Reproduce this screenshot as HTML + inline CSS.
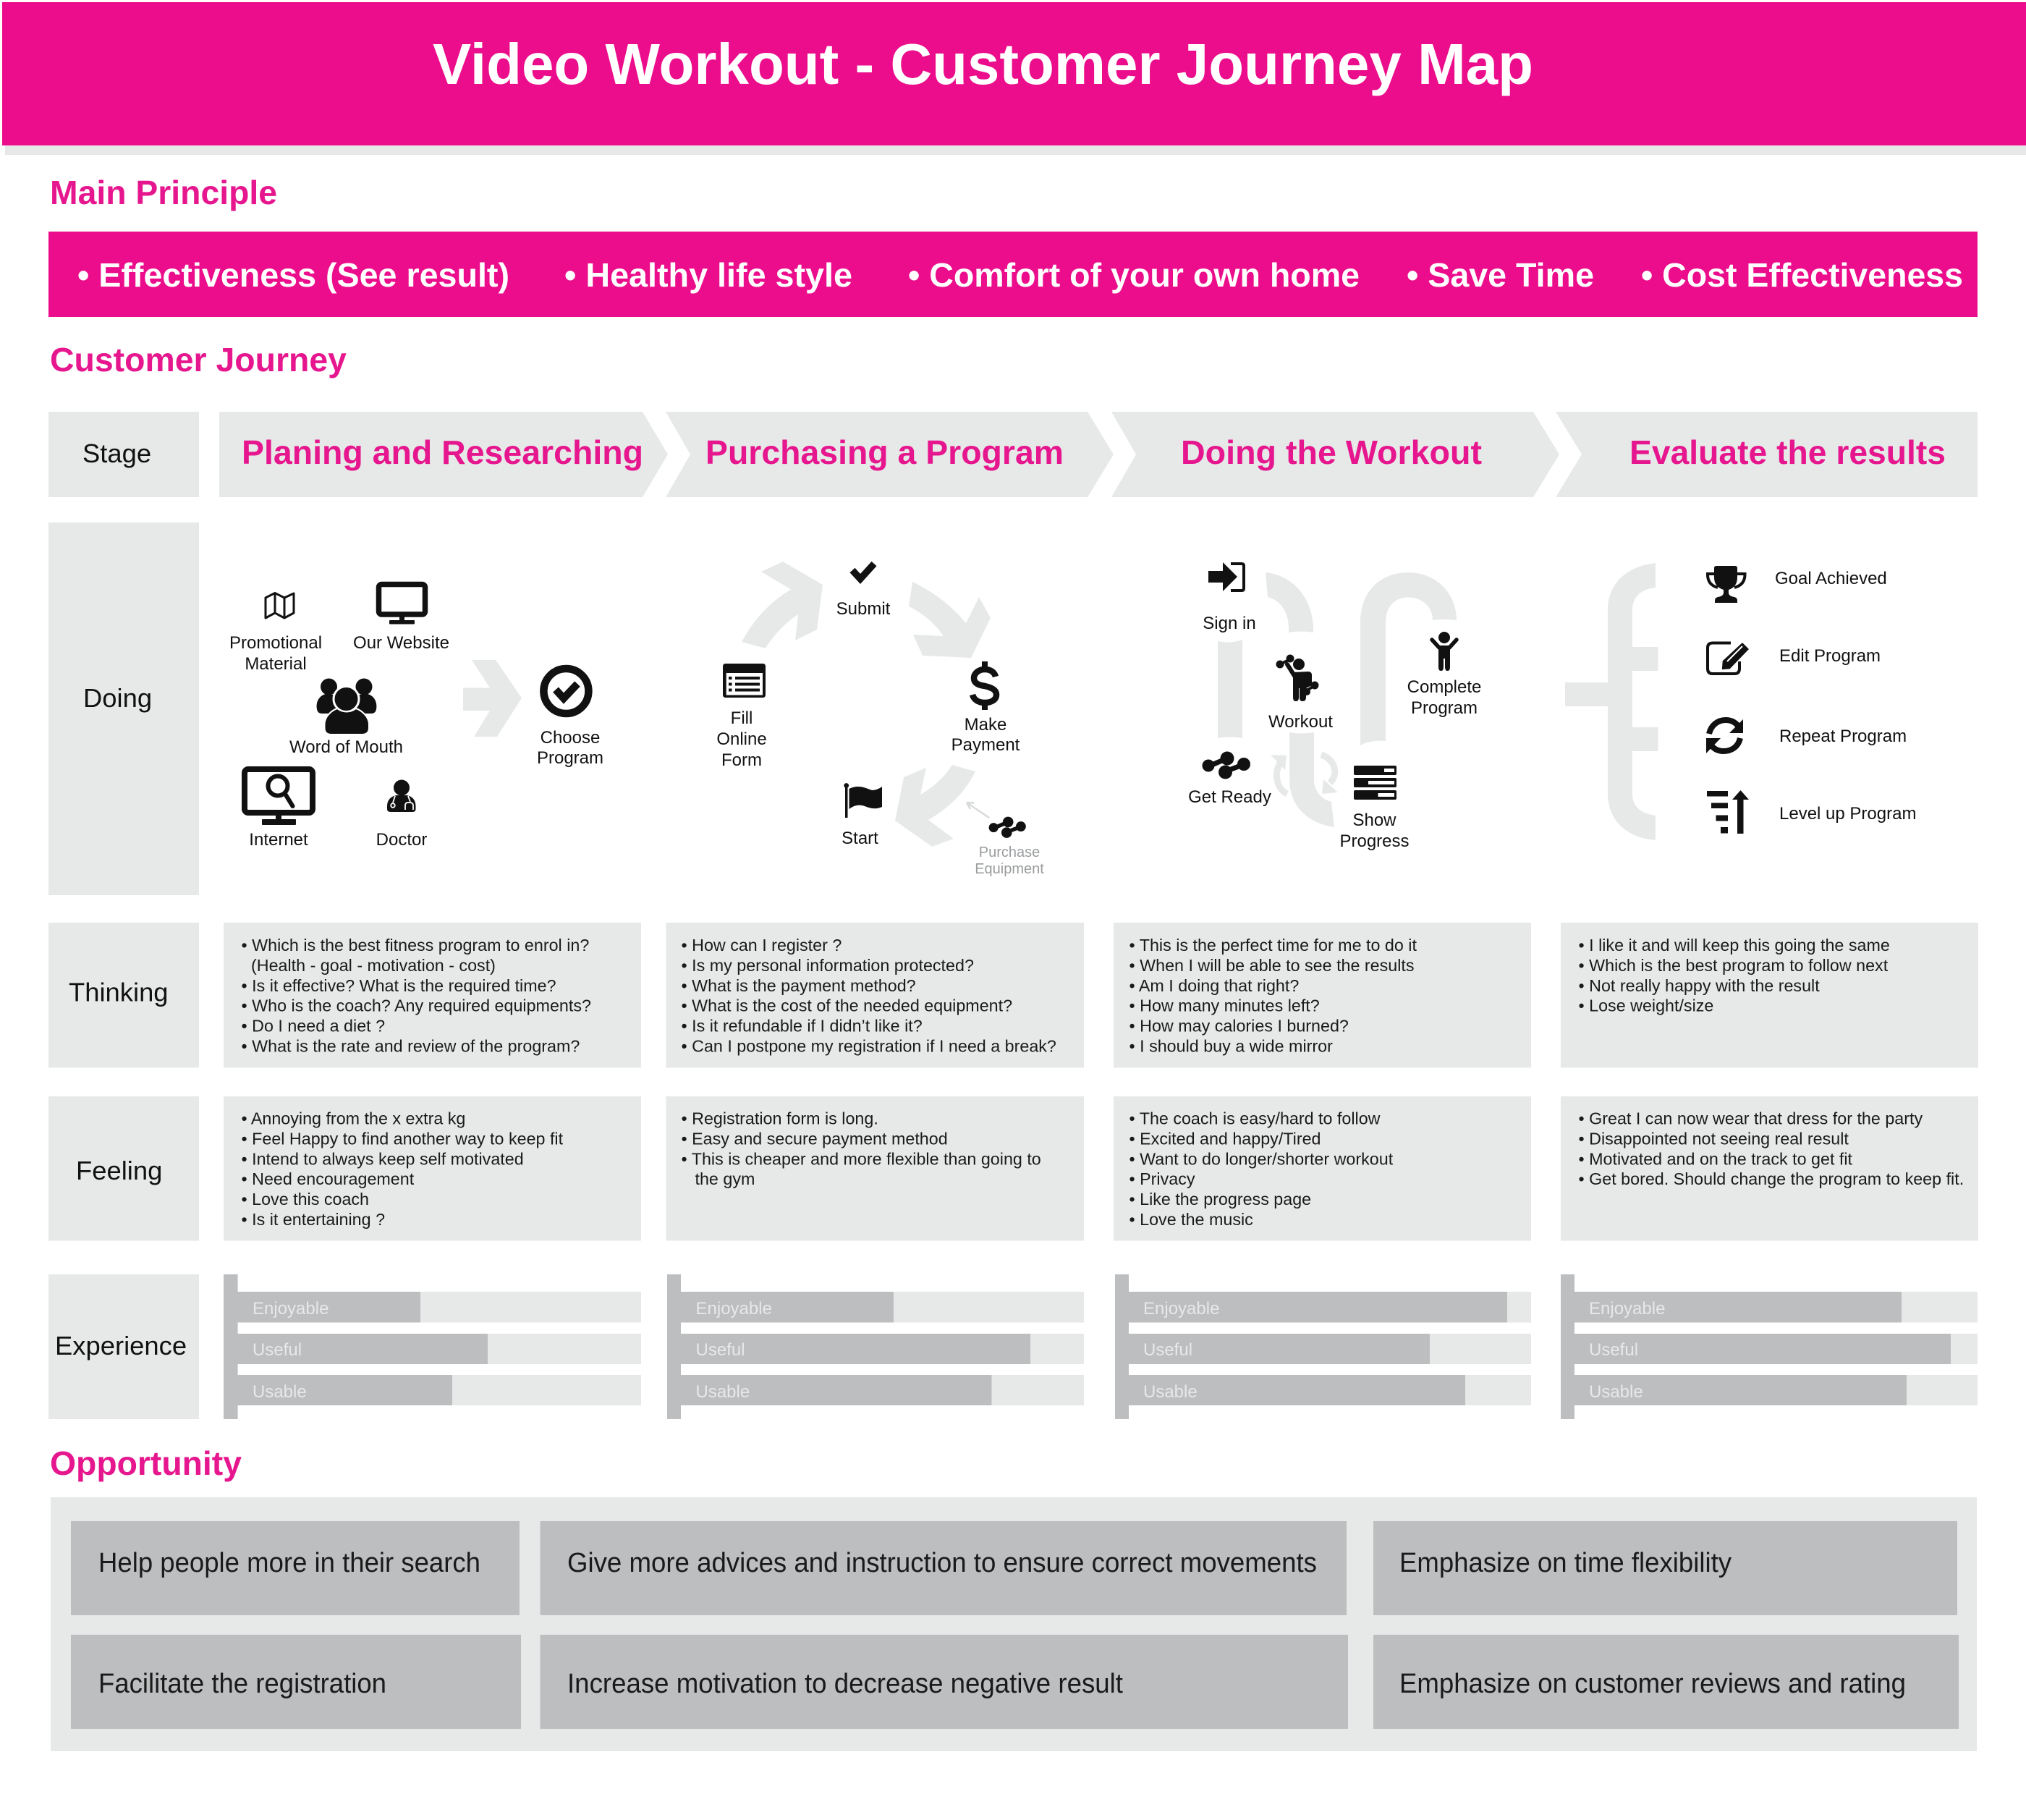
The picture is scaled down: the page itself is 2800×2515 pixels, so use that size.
<!DOCTYPE html>
<html><head><meta charset="utf-8"><title>Video Workout - Customer Journey Map</title>
<style>
html,body{margin:0;padding:0;background:#fff}
svg{display:block}
text{font-family:"Liberation Sans",Arial,sans-serif}
.h{font-weight:700;font-size:46px;fill:#e6178e}
.w{font-weight:700;font-size:46.5px;fill:#fff}
.s{font-weight:700;font-size:46px;fill:#e6178e}
.r{font-size:36.4px;fill:#111}
.l{font-size:24px;fill:#111;text-anchor:middle}
.ls{font-size:24px;fill:#111}
.b{font-size:23.3px;fill:#1a1a1a}
.e{font-size:24px;fill:#e7e9e8}
.o{font-size:38px;fill:#1a1a1a}
.g{fill:#e7e9e8}
.d{fill:#bcbec0}
</style></head><body>
<svg xmlns="http://www.w3.org/2000/svg" width="2800" height="2515" viewBox="0 0 2800 2515">
<rect width="2800" height="2515" fill="#fff"/>
<!-- Header -->
<rect x="7" y="201" width="2793" height="13" class="g"/>
<rect x="3" y="3" width="2797" height="198" fill="#eb0d8b"/>
<text x="598" y="116" font-size="80" font-weight="700" fill="#fff" textLength="1521" lengthAdjust="spacingAndGlyphs">Video Workout - Customer Journey Map</text>
<text x="69" y="282" class="h" textLength="314" lengthAdjust="spacingAndGlyphs">Main Principle</text>
<rect x="67" y="320" width="2666" height="118" fill="#eb0d8b"/>
<text x="107" y="396" class="w" textLength="597" lengthAdjust="spacingAndGlyphs">• Effectiveness (See result)</text>
<text x="780" y="396" class="w" textLength="398" lengthAdjust="spacingAndGlyphs">• Healthy life style</text>
<text x="1255" y="396" class="w" textLength="624" lengthAdjust="spacingAndGlyphs">• Comfort of your own home</text>
<text x="1944" y="396" class="w" textLength="259" lengthAdjust="spacingAndGlyphs">• Save Time</text>
<text x="2268" y="396" class="w" textLength="445" lengthAdjust="spacingAndGlyphs">• Cost Effectiveness</text>
<text x="69" y="513" class="h" textLength="410" lengthAdjust="spacingAndGlyphs">Customer Journey</text>

<!-- Stage -->
<rect x="67" y="569" width="208" height="118" class="g"/>
<text x="114" y="639" class="r">Stage</text>
<polygon class="g" points="303,569 888,569 923,628 888,687 303,687"/>
<polygon class="g" points="920,569 1503,569 1539,628 1503,687 920,687 954,628"/>
<polygon class="g" points="1536,569 2119,569 2155,628 2119,687 1536,687 1570,628"/>
<polygon class="g" points="2150,569 2733,569 2733,687 2150,687 2186,628"/>
<text x="334" y="641" class="s" textLength="555" lengthAdjust="spacingAndGlyphs">Planing and Researching</text>
<text x="975" y="641" class="s" textLength="495" lengthAdjust="spacingAndGlyphs">Purchasing a Program</text>
<text x="1632" y="641" class="s" textLength="416" lengthAdjust="spacingAndGlyphs">Doing the Workout</text>
<text x="2252" y="641" class="s" textLength="437" lengthAdjust="spacingAndGlyphs">Evaluate the results</text>

<!-- Doing -->
<rect x="67" y="722" width="208" height="515" class="g"/>
<text x="115" y="977" class="r">Doing</text>

<!-- Doing col 1 -->
<g fill="none" stroke="#111" stroke-width="3" stroke-linejoin="round">
<polygon points="367,826 380,819.5 393,826 406,820 406,847 393,854 380,847 367,854"/>
<path d="M380 820V847M393 826V854"/>
</g>
<rect x="523.500" y="807.500" width="64" height="41.500" rx="4" fill="none" stroke="#111" stroke-width="7.500"/>
<rect x="552" y="851" width="7" height="7" fill="#111"/><rect x="538" y="857" width="35" height="5.500" rx="1" fill="#111"/>
<text class="l" x="381" y="896">Promotional</text><text class="l" x="381" y="925">Material</text>
<text class="l" x="554.500" y="896">Our Website</text>
<g transform="translate(0,1)">
<g fill="#111">
<circle cx="454.500" cy="948" r="11.500"/><circle cx="503" cy="948" r="11.500"/>
<path d="M438 979 C436 968 442 960 450 958 L470 960 L470 985 L445 985Q439 985 438 979Z"/>
<path d="M520 979 C522 968 516 960 508 958 L488 960 L488 985 L513 985Q519 985 520 979Z"/>
</g>
<circle cx="478.500" cy="965" r="17.500" fill="#111" stroke="#fff" stroke-width="3"/>
<path d="M448.500 1000 C448.500 988 460 980 466 978 C474 984 484 984 492 978 C498 980 510 988 510 1000 L510 1005 Q510 1014 500 1014 L458 1014 Q448.500 1014 448.500 1005Z" fill="#111" stroke="#fff" stroke-width="2"/>
</g>
<text class="l" x="478.500" y="1040">Word of Mouth</text>
<g transform="translate(0,2)">
<rect x="338" y="1061" width="94" height="60" rx="5" fill="none" stroke="#111" stroke-width="8"/>
<rect x="381" y="1125" width="8" height="7" fill="#111"/><rect x="362" y="1130" width="47" height="8" rx="1" fill="#111"/>
<circle cx="384" cy="1084" r="13.500" fill="none" stroke="#111" stroke-width="6"/>
<path d="M394 1095L404.500 1112" stroke="#111" stroke-width="6" stroke-linecap="round"/>
</g>
<text class="l" x="385" y="1168">Internet</text>
<g transform="translate(0,2)">
<circle cx="555" cy="1086.500" r="11" fill="#111"/>
<path d="M535 1112 C535 1103 541 1098 548 1097 L562 1097 C569 1098 574.500 1103 574.500 1112 L574.500 1116 Q574.500 1120 570 1120 L540 1120 Q535 1120 535 1116Z" fill="#111"/>
<g fill="none" stroke="#fff" stroke-width="1.800"><path d="M546 1098 L543 1107"/><circle cx="543" cy="1111" r="2.800"/><path d="M564 1098 L567 1106 M560 1117 V1111 Q560 1107 564 1107 L566 1107 Q571 1107 571 1111 V1117"/></g>
</g>
<text class="l" x="555" y="1168">Doctor</text>
<polygon class="g" points="652,912 685,912 721,964.500 687,1018 655,1018 677,982 640,982 640,950.500 677,950.500"/>
<circle cx="782.400" cy="955" r="31" fill="none" stroke="#111" stroke-width="10.500"/>
<path d="M768 953 L779 965 L798 945" fill="none" stroke="#111" stroke-width="10.500" stroke-linejoin="miter"/>
<text class="l" x="788" y="1027">Choose</text><text class="l" x="788" y="1055">Program</text>

<!-- Doing col 2 -->
<path class="g" d="M1025 887 L1058 896 Q1075 868 1103 849 L1099 885 L1129 870 L1137 808 L1082 776 L1052 790 L1093 814.500 Q1050 840 1025 887Z"/>
<path class="g" d="M1261 804 L1256 838 Q1285 852 1304 879 L1262 877 L1275 906 L1342 909 L1369 854 L1353 825 L1335 861 Q1305 825 1261 804Z"/>
<path class="g" d="M1348 1066 L1316 1057 Q1300 1082 1272 1098 L1280 1061 L1249 1074 L1237 1134 L1288 1170 L1318 1159 L1283 1133 Q1328 1107 1348 1066Z"/>
<path d="M1178 788 L1189 800 L1208 779" fill="none" stroke="#111" stroke-width="9.500"/>
<text class="l" x="1193" y="849">Submit</text>
<rect x="999" y="917" width="59" height="47" rx="3.500" fill="#111"/>
<rect x="1003.700" y="930" width="50.300" height="30.500" fill="#fff"/>
<g fill="#111"><rect x="1007" y="935" width="4.500" height="4"/><rect x="1016" y="935" width="34" height="4"/><rect x="1007" y="943.500" width="4.500" height="4"/><rect x="1016" y="943.500" width="34" height="4"/><rect x="1007" y="951.500" width="4.500" height="4"/><rect x="1016" y="951.500" width="34" height="4"/></g>
<text class="l" x="1025" y="1000">Fill</text><text class="l" x="1025" y="1029">Online</text><text class="l" x="1025" y="1058">Form</text>
<g transform="translate(0,1)">
<path d="M1376 934 C1374 927 1368 924 1361 924 C1352 924 1346 930 1346 936 C1346 944 1354 946 1361 947 C1370 949 1377 952 1377 959 C1377 966 1370 970 1361 970 C1352 970 1346 966 1344 959" fill="none" stroke="#111" stroke-width="8.500"/>
<path d="M1361 913V924M1361 970V980" stroke="#111" stroke-width="8"/>
</g>
<text class="l" x="1362" y="1009">Make</text><text class="l" x="1362" y="1037">Payment</text>
<g transform="translate(0,1)">
<rect x="1168" y="1084" width="3.500" height="45" fill="#111"/><circle cx="1169.700" cy="1084.500" r="3.400" fill="#111"/>
<path d="M1173.500 1089 C1185 1083 1195 1087 1205 1091 C1210 1091 1215 1089 1219 1086 L1219 1114 C1210 1118 1203 1116 1195 1113 C1187 1110 1180 1112 1173.500 1117Z" fill="#111"/>
</g>
<text class="l" x="1188.500" y="1166">Start</text>
<path d="M1367 1130 L1336 1109 M1336 1109 L1346 1109.500 M1336 1109 L1341 1118" fill="none" stroke="#d8dada" stroke-width="2.500"/>
<g transform="translate(1367,1129) scale(.77) translate(-1662,-1038)" fill="#111">
<path d="M1670 1058 L1696 1047 M1693.500 1065 L1720 1055" stroke="#111" stroke-width="7" fill="none"/>
<circle cx="1670" cy="1057" r="8.500"/><circle cx="1696" cy="1047" r="9.500"/><circle cx="1693.500" cy="1066" r="9.500"/><circle cx="1719" cy="1055" r="9"/>
</g>
<text x="1395" y="1184" font-size="20" fill="#9a9c9e" text-anchor="middle">Purchase</text>
<text x="1395" y="1207" font-size="20" fill="#9a9c9e" text-anchor="middle">Equipment</text>

<!-- Doing col 3 -->
<path class="g" d="M1749 791 C1790 795 1815 830 1815 870 L1815 874 Q1798 871 1781 874 L1781 870 C1781 845 1770 830 1752 825 Z"/>
<path class="g" d="M1683 886 Q1700 890 1717 884 L1717 1020 Q1700 1017 1683 1020Z"/>
<path class="g" d="M1880 1030 L1880 860 C1880 815 1910 791 1946 791 C1985 791 2013 820 2013 857 Q1996 855 1980 857 C1980 838 1965 825.500 1946 825.500 C1928 825.500 1915 838 1915 860 L1915 1024 Q1895 1022 1880 1030Z"/>
<path class="g" d="M1782 1012 Q1799 1015 1816 1012 L1816 1077 C1816 1092 1825 1104 1840 1108 L1844 1143 C1805 1137 1782 1112 1782 1077Z"/>
<path d="M1779 1097 C1764 1090 1760 1068 1770 1053" fill="none" stroke="#e7e9e8" stroke-width="9"/>
<polygon class="g" points="1756,1043 1778,1044 1776,1064"/>
<path d="M1826 1043 C1846 1050 1850 1070 1838 1082" fill="none" stroke="#e7e9e8" stroke-width="9"/>
<polygon class="g" points="1849,1095 1827,1097 1829,1077"/>
<polygon fill="#111" points="1670,789 1690,789 1690,777 1710,797 1690,817 1690,805 1670,805"/>
<path d="M1701 779 L1716 779 Q1719 779 1719 782 L1719 813 Q1719 816 1716 816 L1701 816" fill="none" stroke="#111" stroke-width="4"/>
<text class="l" x="1699" y="869">Sign in</text>
<!-- workout figure -->
<g fill="#111" transform="translate(0,1)">
<circle cx="1795" cy="917" r="8"/>
<path d="M1787 928 L1808 927 Q1813 927 1813 932 L1813 946 L1805 950 L1805 963 Q1805 968 1800 968 Q1796 968 1796 963 L1796 950 L1795 950 L1795 963 Q1795 968 1791 968 Q1787 968 1787 963Z"/>
<path d="M1789 933 L1779 917" stroke="#111" stroke-width="6" stroke-linecap="round"/>
<path d="M1769 917 L1783 910" stroke="#111" stroke-width="4"/>
<circle cx="1769" cy="917" r="5.500"/><circle cx="1783" cy="909" r="5.500"/>
<path d="M1805 954 L1817 946" stroke="#111" stroke-width="4"/>
<circle cx="1817" cy="946" r="5.500"/><circle cx="1806" cy="955" r="5"/>
</g>
<text class="l" x="1797.500" y="1005">Workout</text>
<g fill="#111" transform="translate(0,1)">
<circle cx="1996" cy="880" r="8"/>
<path d="M1979 883 L1989 894 L2003 894 L2013 883" fill="none" stroke="#111" stroke-width="5.500" stroke-linecap="round" stroke-linejoin="round"/>
<rect x="1988" y="891" width="16" height="18"/>
<path d="M1988 905 H1995 V921 Q1995 926 1991.500 926 Q1988 926 1988 921Z M1997 905 H2004 V921 Q2004 926 2000.500 926 Q1997 926 1997 921Z"/>
</g>
<text class="l" x="1996" y="957">Complete</text><text class="l" x="1996" y="986">Program</text>
<g fill="#111" transform="translate(0,1)">
<path d="M1670 1058 L1696 1047 M1693.500 1065 L1720 1055" stroke="#111" stroke-width="7" fill="none"/>
<circle cx="1670" cy="1057" r="8.500"/><circle cx="1696" cy="1047" r="9.500"/><circle cx="1693.500" cy="1066" r="9.500"/><circle cx="1719" cy="1055" r="9"/>
</g>
<text class="l" x="1699.500" y="1109">Get Ready</text>
<g fill="#111"><rect x="1871" y="1058" width="59" height="13" rx="2"/><rect x="1871" y="1075" width="59" height="13" rx="2"/><rect x="1871" y="1092" width="59" height="13" rx="2"/></g>
<g fill="#fff"><rect x="1913" y="1062" width="14" height="5"/><rect x="1891" y="1079" width="36" height="5"/><rect x="1904.500" y="1096" width="22.500" height="5"/></g>
<text class="l" x="1899.500" y="1141">Show</text><text class="l" x="1899.500" y="1170">Progress</text>

<!-- Doing col 4 -->
<path class="g" d="M2288 778 C2250 782 2222 805 2222 843 L2222 943 L2163 943 L2163 976 L2222 976 L2222 1097 C2222 1135 2250 1158 2288 1161 L2288 1127 C2268 1124 2256 1115 2256 1097 L2256 1038 L2291.500 1038 L2291.500 1005 L2256 1005 L2256 927 L2291.500 927 L2291.500 894 L2256 894 L2256 843 C2256 825 2268 814 2288 812Z"/>
<g fill="#111">
<path d="M2369 785 Q2369 782 2372 782 L2398 782 Q2401 782 2401 785 L2401 798 Q2401 811 2389 815 L2389 820 Q2390 824 2397 825 Q2401 826 2401 830 L2401 833 L2370 833 L2370 830 Q2370 826 2374 825 Q2381 824 2382 820 L2382 815 Q2369 811 2369 798Z"/>
<path d="M2369 793 L2360 793 Q2359.500 808 2374 812 M2401 793 L2411.500 793 Q2412 808 2397 812" fill="none" stroke="#111" stroke-width="4"/>
</g>
<text class="ls" x="2453" y="807">Goal Achieved</text>
<path d="M2392 888.500 L2367 888.500 Q2360 888.500 2360 895 L2360 924 Q2360 931 2367 931 L2397 931 Q2404 931 2404 924 L2404 914" fill="none" stroke="#111" stroke-width="4"/>
<polygon fill="#111" stroke="#fff" stroke-width="1.500" points="2380,913 2408,887 2418,897 2391,925 2379,926"/>
<path d="M2387 914 L2408 893" stroke="#fff" stroke-width="2"/>
<text class="ls" x="2459" y="914">Edit Program</text>
<g transform="translate(0,1)">
<path d="M2362 1013 C2365 1000 2375 994 2385 994 C2392 994 2398 997 2402 1002" fill="none" stroke="#111" stroke-width="8"/>
<polygon fill="#111" points="2409,993 2409,1012 2390,1012"/>
<path d="M2405 1019 C2402 1032 2392 1037 2382 1037 C2375 1037 2369 1034 2365 1029" fill="none" stroke="#111" stroke-width="8"/>
<polygon fill="#111" points="2358,1040 2358,1019 2378,1019"/>
</g>
<text class="ls" x="2459" y="1025">Repeat Program</text>
<g fill="#111" transform="translate(0,2)"><rect x="2359" y="1091" width="29" height="7.500"/><rect x="2365" y="1107.500" width="23" height="7.500"/><rect x="2371.500" y="1124.500" width="16.500" height="8"/><rect x="2378" y="1141" width="10" height="8.500"/><rect x="2401" y="1100" width="8.500" height="50"/><polygon points="2394,1103 2417,1103 2405.500,1090"/></g>
<text class="ls" x="2459" y="1132">Level up Program</text>

<!-- Thinking -->
<rect x="67" y="1275" width="208" height="200.500" class="g"/>
<text x="95" y="1383.500" class="r">Thinking</text>
<rect x="309" y="1275" width="577" height="200.500" class="g"/>
<rect x="920.500" y="1275" width="577.500" height="200.500" class="g"/>
<rect x="1539" y="1275" width="577" height="200.500" class="g"/>
<rect x="2157" y="1275" width="577" height="200.500" class="g"/>
<text class="b" x="333.500" y="1314">• Which is the best fitness program to enrol in?</text>
<text class="b" x="347" y="1342">(Health - goal - motivation - cost)</text>
<text class="b" x="333.500" y="1370">• Is it effective? What is the required time?</text>
<text class="b" x="333.500" y="1397.500">• Who is the coach? Any required equipments?</text>
<text class="b" x="333.500" y="1425.500">• Do I need a diet ?</text>
<text class="b" x="333.500" y="1453.500">• What is the rate and review of the program?</text>
<text class="b" x="941.500" y="1314">• How can I register ?</text>
<text class="b" x="941.500" y="1342">• Is my personal information protected?</text>
<text class="b" x="941.500" y="1370">• What is the payment method?</text>
<text class="b" x="941.500" y="1397.500">• What is the cost of the needed equipment?</text>
<text class="b" x="941.500" y="1425.500">• Is it refundable if I didn’t like it?</text>
<text class="b" x="941.500" y="1453.500">• Can I postpone my registration if I need a break?</text>
<text class="b" x="1560.500" y="1314">• This is the perfect time for me to do it</text>
<text class="b" x="1560.500" y="1342">• When I will be able to see the results</text>
<text class="b" x="1560.500" y="1370">• Am I doing that right?</text>
<text class="b" x="1560.500" y="1397.500">• How many minutes left?</text>
<text class="b" x="1560.500" y="1425.500">• How may calories I burned?</text>
<text class="b" x="1560.500" y="1453.500">• I should buy a wide mirror</text>
<text class="b" x="2181.500" y="1314">• I like it and will keep this going the same</text>
<text class="b" x="2181.500" y="1342">• Which is the best program to follow next</text>
<text class="b" x="2181.500" y="1370">• Not really happy with the result</text>
<text class="b" x="2181.500" y="1397.500">• Lose weight/size</text>

<!-- Feeling -->
<rect x="67" y="1515" width="208" height="199.500" class="g"/>
<text x="105" y="1630" class="r">Feeling</text>
<rect x="309" y="1515" width="577" height="199.500" class="g"/>
<rect x="920.500" y="1515" width="577.500" height="199.500" class="g"/>
<rect x="1539" y="1515" width="577" height="199.500" class="g"/>
<rect x="2157" y="1515" width="577" height="199.500" class="g"/>
<text class="b" x="333.500" y="1553.500">• Annoying from the x extra kg</text>
<text class="b" x="333.500" y="1581.500">• Feel Happy to find another way to keep fit</text>
<text class="b" x="333.500" y="1609.500">• Intend to always keep self motivated</text>
<text class="b" x="333.500" y="1637">• Need encouragement</text>
<text class="b" x="333.500" y="1665">• Love this coach</text>
<text class="b" x="333.500" y="1693">• Is it entertaining ?</text>
<text class="b" x="941.500" y="1553.500">• Registration form is long.</text>
<text class="b" x="941.500" y="1581.500">• Easy and secure payment method</text>
<text class="b" x="941.500" y="1609.500">• This is cheaper and more flexible than going to</text>
<text class="b" x="960.500" y="1637">the gym</text>
<text class="b" x="1560.500" y="1553.500">• The coach is easy/hard to follow</text>
<text class="b" x="1560.500" y="1581.500">• Excited and happy/Tired</text>
<text class="b" x="1560.500" y="1609.500">• Want to do longer/shorter workout</text>
<text class="b" x="1560.500" y="1637">• Privacy</text>
<text class="b" x="1560.500" y="1665">• Like the progress page</text>
<text class="b" x="1560.500" y="1693">• Love the music</text>
<text class="b" x="2181.500" y="1553.500">• Great I can now wear that dress for the party</text>
<text class="b" x="2181.500" y="1581.500">• Disappointed not seeing real result</text>
<text class="b" x="2181.500" y="1609.500">• Motivated and on the track to get fit</text>
<text class="b" x="2181.500" y="1637">• Get bored. Should change the program to keep fit.</text>

<!-- Experience -->
<rect x="67" y="1761" width="208" height="200" class="g"/>
<text x="76" y="1872" class="r">Experience</text>
<!-- col 1 -->
<rect x="328" y="1785" width="558" height="42.500" class="g"/><rect x="328" y="1843" width="558" height="42" class="g"/><rect x="328" y="1900" width="558" height="42" class="g"/>
<rect x="309" y="1761" width="19.600" height="200" class="d"/>
<rect x="328" y="1785" width="253" height="42.500" class="d"/><rect x="328" y="1843" width="346" height="42" class="d"/><rect x="328" y="1900" width="297" height="42" class="d"/>
<text class="e" x="349" y="1816">Enjoyable</text><text class="e" x="349" y="1873">Useful</text><text class="e" x="349" y="1931">Usable</text>
<!-- col 2 -->
<rect x="941" y="1785" width="557" height="42.500" class="g"/><rect x="941" y="1843" width="557" height="42" class="g"/><rect x="941" y="1900" width="557" height="42" class="g"/>
<rect x="922" y="1761" width="19" height="200" class="d"/>
<rect x="941" y="1785" width="294" height="42.500" class="d"/><rect x="941" y="1843" width="483" height="42" class="d"/><rect x="941" y="1900" width="429.500" height="42" class="d"/>
<text class="e" x="961.500" y="1816">Enjoyable</text><text class="e" x="961.500" y="1873">Useful</text><text class="e" x="961.500" y="1931">Usable</text>
<!-- col 3 -->
<rect x="1560" y="1785" width="556" height="42.500" class="g"/><rect x="1560" y="1843" width="556" height="42" class="g"/><rect x="1560" y="1900" width="556" height="42" class="g"/>
<rect x="1541" y="1761" width="19" height="200" class="d"/>
<rect x="1560" y="1785" width="523" height="42.500" class="d"/><rect x="1560" y="1843" width="416" height="42" class="d"/><rect x="1560" y="1900" width="465" height="42" class="d"/>
<text class="e" x="1580" y="1816">Enjoyable</text><text class="e" x="1580" y="1873">Useful</text><text class="e" x="1580" y="1931">Usable</text>
<!-- col 4 -->
<rect x="2176" y="1785" width="557" height="42.500" class="g"/><rect x="2176" y="1843" width="557" height="42" class="g"/><rect x="2176" y="1900" width="557" height="42" class="g"/>
<rect x="2157" y="1761" width="19" height="200" class="d"/>
<rect x="2176" y="1785" width="452" height="42.500" class="d"/><rect x="2176" y="1843" width="520" height="42" class="d"/><rect x="2176" y="1900" width="459" height="42" class="d"/>
<text class="e" x="2196" y="1816">Enjoyable</text><text class="e" x="2196" y="1873">Useful</text><text class="e" x="2196" y="1931">Usable</text>

<!-- Opportunity -->
<text x="69" y="2038" class="h" textLength="265" lengthAdjust="spacingAndGlyphs">Opportunity</text>
<rect x="70" y="2069" width="2662" height="351" class="g"/>
<rect x="98" y="2102" width="620" height="130" class="d"/>
<rect x="746.500" y="2102" width="1114.500" height="130" class="d"/>
<rect x="1898" y="2102" width="807" height="130" class="d"/>
<rect x="98" y="2259" width="622" height="130" class="d"/>
<rect x="746.500" y="2259" width="1116.500" height="130" class="d"/>
<rect x="1898" y="2259" width="809" height="130" class="d"/>
<text class="o" x="136" y="2172" textLength="528" lengthAdjust="spacingAndGlyphs">Help people more in their search</text>
<text class="o" x="784" y="2172" textLength="1036" lengthAdjust="spacingAndGlyphs">Give more advices and instruction to ensure correct movements</text>
<text class="o" x="1934" y="2172" textLength="459" lengthAdjust="spacingAndGlyphs">Emphasize on time flexibility</text>
<text class="o" x="136" y="2339" textLength="398" lengthAdjust="spacingAndGlyphs">Facilitate the registration</text>
<text class="o" x="784" y="2339" textLength="768" lengthAdjust="spacingAndGlyphs">Increase motivation to decrease negative result</text>
<text class="o" x="1934" y="2339" textLength="700" lengthAdjust="spacingAndGlyphs">Emphasize on customer reviews and rating</text>
</svg>
</body></html>
